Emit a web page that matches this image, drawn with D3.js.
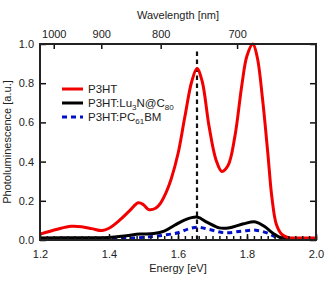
<!DOCTYPE html>
<html lang="en">
  <head>
    <meta charset="utf-8">
    <script src="https://d3js.org/d3.v7.min.js"></script>
    <style>
      body { margin: 0; background: #fff; }
      text { font-family: "Liberation Sans", Arial, sans-serif; fill: #222; }
    </style>
  </head>
  <body>
    <div id="chart"></div>
    <script>
      // energies (eV) and photoluminescence
      const p3htE   = [1.20, 1.25, 1.29, 1.32, 1.35, 1.38, 1.40, 1.43, 1.46, 1.485, 1.50, 1.515, 1.535, 1.55, 1.565, 1.58, 1.60, 1.62, 1.64, 1.655, 1.67, 1.69, 1.71, 1.727, 1.745, 1.765, 1.785, 1.80, 1.817, 1.83, 1.845, 1.86, 1.872, 1.885, 1.90, 1.92, 1.95, 2.00];
      const p3htPL  = [0.030, 0.055, 0.070, 0.068, 0.058, 0.048, 0.060, 0.100, 0.150, 0.190, 0.180, 0.155, 0.162, 0.190, 0.240, 0.310, 0.440, 0.630, 0.810, 0.875, 0.810, 0.580, 0.410, 0.350, 0.380, 0.530, 0.790, 0.940, 1.000, 0.930, 0.720, 0.450, 0.220, 0.080, 0.030, 0.012, 0.010, 0.010];
      const luE     = [1.20, 1.30, 1.40, 1.45, 1.49, 1.53, 1.56, 1.59, 1.62, 1.655, 1.685, 1.72, 1.75, 1.79, 1.825, 1.85, 1.875, 1.90, 1.95, 2.00];
      const luPL    = [0.010, 0.012, 0.013, 0.022, 0.030, 0.033, 0.045, 0.075, 0.103, 0.117, 0.090, 0.062, 0.063, 0.083, 0.092, 0.070, 0.035, 0.010, 0.006, 0.006];
      const pcbmE   = [1.20, 1.30, 1.40, 1.47, 1.51, 1.56, 1.60, 1.63, 1.655, 1.69, 1.735, 1.785, 1.825, 1.86, 1.89, 1.93, 2.00];
      const pcbmPL  = [0.008, 0.008, 0.008, 0.010, 0.015, 0.025, 0.037, 0.056, 0.065, 0.054, 0.037, 0.045, 0.050, 0.035, 0.010, 0.005, 0.005];
      const energyTicks = [1.2, 1.4, 1.6, 1.8, 2.0];
      const plTicks = [0.0, 0.2, 0.4, 0.6, 0.8, 1.0];
      const wavelengthTicks = [1000, 900, 800, 700];
      const markerE = 1.655;

      const W = 325, H = 286;
      const margin = {top: 44, right: 9, bottom: 46, left: 40};
      const width = W - margin.left - margin.right,
            height = H - margin.top - margin.bottom;
      const font = "Liberation Sans, Arial, sans-serif";

      const svg = d3.select("#chart").append("svg")
          .attr("width", W).attr("height", H);
      const g = svg.append("g")
          .attr("transform", `translate(${margin.left},${margin.top})`);

      const x = d3.scaleLinear().domain([1.2, 2.0]).range([0, width]);
      const y = d3.scaleLinear().domain([0, 1]).range([height, 0]);

      // curves
      const line = d3.line()
          .x(d => x(d[0])).y(d => y(d[1]))
          .curve(d3.curveCatmullRom.alpha(0.5));

      const series = [
        {name: "P3HT", e: p3htE, v: p3htPL, color: "#f20000", dash: null},
        {name: "Lu", e: luE, v: luPL, color: "#000", dash: null},
        {name: "PCBM", e: pcbmE, v: pcbmPL, color: "#0010c8", dash: "5,4"}
      ];

      g.append("line")
          .attr("x1", Math.round(x(markerE))).attr("x2", Math.round(x(markerE)))
          .attr("y1", y(0)).attr("y2", y(0.97))
          .attr("stroke", "#111").attr("stroke-width", 2.2)
          .attr("stroke-dasharray", "4.5,3.5");

      // draw order: blue, black, red on top
      [series[2], series[1], series[0]].forEach(s => {
        g.append("path")
            .datum(d3.zip(s.e, s.v))
            .attr("fill", "none")
            .attr("stroke", s.color)
            .attr("stroke-width", 3)
            .attr("stroke-dasharray", s.dash)
            .attr("d", line);
      });

      // bottom axis, ticks inward
      const minorE = d3.range(1.2, 2.0001, 0.02);
      g.append("g")
          .attr("transform", `translate(0,${height})`)
          .call(d3.axisBottom(x).tickValues(minorE).tickSize(-4).tickFormat(""))
          .call(a => a.select(".domain").remove());
      const xAxis = g.append("g")
          .attr("transform", `translate(0,${height})`)
          .call(d3.axisBottom(x).tickValues(energyTicks).tickSize(-6).tickPadding(10).tickFormat(d3.format(".1f")));
      xAxis.select(".domain").remove();
      xAxis.selectAll("text").attr("font-size", 11).style("font-family", font);

      // left axis
      const yAxis = g.append("g")
          .call(d3.axisLeft(y).tickValues(plTicks).tickSize(-6).tickPadding(6).tickFormat(d3.format(".1f")));
      yAxis.select(".domain").remove();
      yAxis.selectAll("text").attr("font-size", 11).style("font-family", font);

      // right axis
      const yRight = g.append("g")
          .attr("transform", `translate(${width},0)`)
          .call(d3.axisRight(y).tickValues(plTicks).tickSize(-6).tickFormat(""));
      yRight.select(".domain").remove();

      // top axis: wavelength in nm, E = 1239.84 / lambda
      const topAxis = g.append("g")
          .call(d3.axisTop(x).tickValues(wavelengthTicks.map(l => 1239.84 / l))
            .tickSize(-5).tickPadding(6)
            .tickFormat((d, i) => wavelengthTicks[i]));
      topAxis.select(".domain").remove();
      topAxis.selectAll("text").attr("font-size", 11).style("font-family", font);

      g.selectAll(".tick line").attr("stroke", "#111").attr("stroke-width", 1.5);

      // frame
      g.append("rect")
          .attr("width", width).attr("height", height)
          .attr("fill", "none").attr("stroke", "#222").attr("stroke-width", 2);

      // axis titles
      svg.append("text")
          .attr("x", margin.left + width / 2).attr("y", 19)
          .attr("text-anchor", "middle").attr("font-size", 11)
          .text("Wavelength [nm]");
      svg.append("text")
          .attr("x", margin.left + width / 2).attr("y", 272)
          .attr("text-anchor", "middle").attr("font-size", 11)
          .text("Energy [eV]");
      svg.append("text")
          .attr("transform", `translate(11,${margin.top + height / 2}) rotate(-90)`)
          .attr("text-anchor", "middle").attr("font-size", 11)
          .text("Photoluminescence [a.u.]");

      // legend
      const legend = g.append("g").attr("transform", "translate(22,45)");
      const rows = [
        {s: series[0], parts: [["P3HT", 0]]},
        {s: series[1], parts: [["P3HT:Lu", 0], ["3", 1], ["N@C", 0], ["80", 1]]},
        {s: series[2], parts: [["P3HT:PC", 0], ["61", 1], ["BM", 0]]}
      ];
      rows.forEach((r, i) => {
        const ry = i * 14;
        legend.append("line")
            .attr("x1", 0).attr("x2", 21).attr("y1", ry).attr("y2", ry)
            .attr("stroke", r.s.color).attr("stroke-width", 3)
            .attr("stroke-dasharray", r.s.dash);
        const t = legend.append("text")
            .attr("x", 26).attr("y", ry + 4).attr("font-size", 11.5);
        r.parts.forEach(p => {
          const ts = t.append("tspan").text(p[0]);
          if (p[1]) ts.attr("font-size", 8).attr("baseline-shift", "-3");
        });
      });
    </script>
  </body>
</html>
